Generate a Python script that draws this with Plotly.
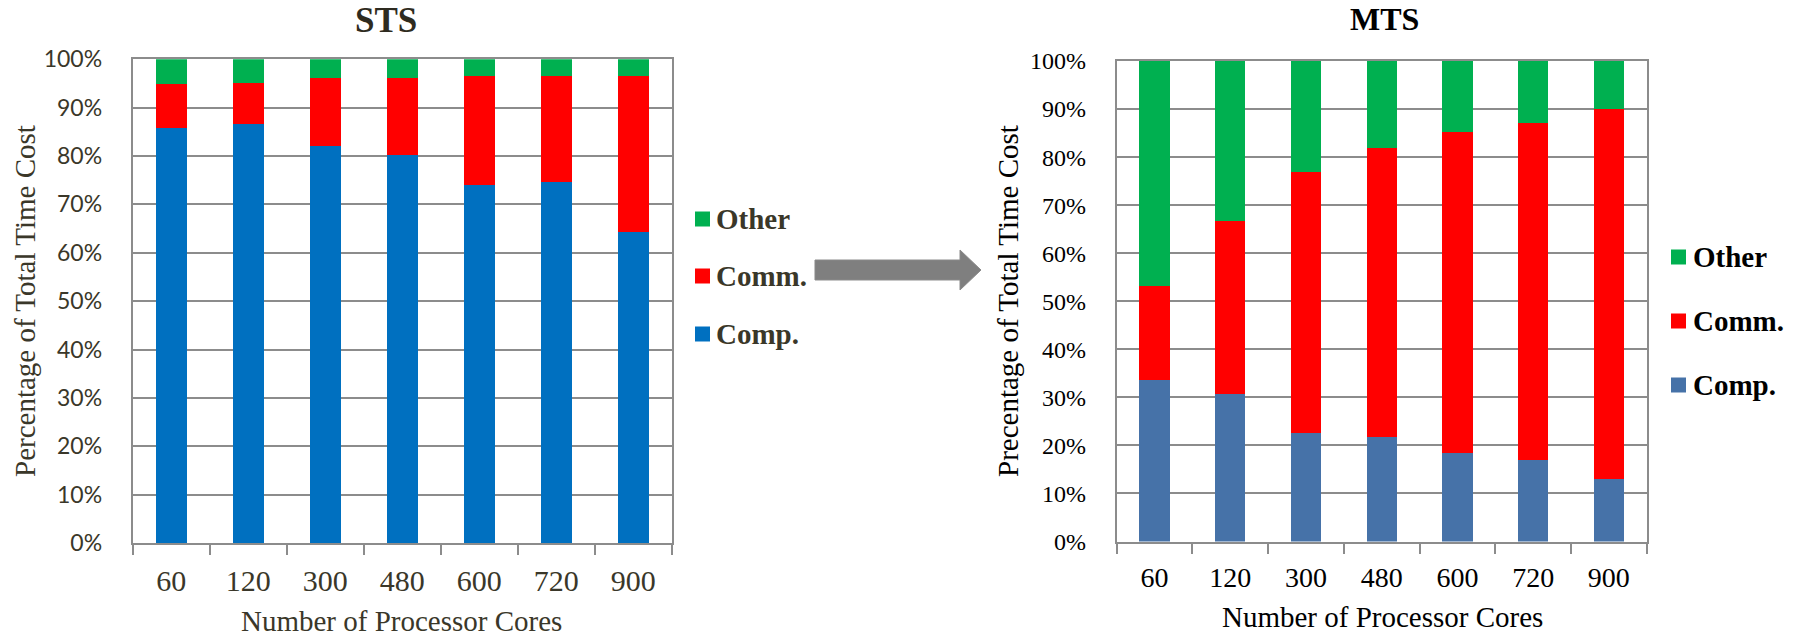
import plotly.graph_objects as go

# Processor core counts (categories)
cores = ["60", "120", "300", "480", "600", "720", "900"]

# STS: share of total time (fractions)
sts_comp = [0.857, 0.867, 0.821, 0.802, 0.740, 0.747, 0.643]
sts_comm = [0.092, 0.085, 0.140, 0.160, 0.226, 0.218, 0.323]
sts_other = [0.051, 0.048, 0.039, 0.038, 0.034, 0.035, 0.034]

# MTS: share of total time (fractions)
mts_comp = [0.337, 0.307, 0.225, 0.218, 0.184, 0.170, 0.131]
mts_comm = [0.194, 0.359, 0.545, 0.600, 0.668, 0.701, 0.770]
mts_other = [0.469, 0.334, 0.230, 0.182, 0.148, 0.129, 0.099]

series_names = ["Comp.", "Comm.", "Other"]
sts_colors = ["#0070C0", "#FF0000", "#00B050"]
mts_colors = ["#4672A8", "#FF0000", "#00B050"]

W, H = 1798, 636
SERIF = "Liberation Serif"
LEFT_TXT = "#3a3729"
RIGHT_TXT = "#000000"
GRID = "#8c8c8c"


def px(x):
    return x / W


def py(y):
    return 1 - y / H


fig = go.Figure()

for vals, name, color in zip([sts_comp, sts_comm, sts_other], series_names, sts_colors):
    fig.add_trace(go.Bar(x=cores, y=vals, name=name, marker=dict(color=color, line=dict(width=0)),
                         xaxis="x", yaxis="y", showlegend=False))
for vals, name, color in zip([mts_comp, mts_comm, mts_other], series_names, mts_colors):
    fig.add_trace(go.Bar(x=cores, y=vals, name=name, marker=dict(color=color, line=dict(width=0)),
                         xaxis="x2", yaxis="y2", showlegend=False))


def xaxis_style(domain, font_size, color):
    return dict(domain=domain, type="category", categoryarray=cores, categoryorder="array",
                showline=True, mirror=True, linecolor=GRID, linewidth=2,
                ticks="outside", tickson="boundaries", ticklen=10, tickwidth=2, tickcolor=GRID,
                tickfont=dict(family=SERIF, size=font_size, color=color),
                ticklabelstandoff=10, showgrid=False, fixedrange=True, automargin=False)


def yaxis_style(domain, font, anchor, standoff):
    return dict(domain=domain, anchor=anchor, range=[0, 1], dtick=0.1, tickformat=".0%",
                showgrid=True, gridcolor=GRID, gridwidth=1.5, zeroline=False,
                showline=True, mirror=True, linecolor=GRID, linewidth=2, ticks="",
                tickfont=font, ticklabelstandoff=standoff, fixedrange=True, automargin=False)


layout = dict(
    width=W, height=H, margin=dict(l=0, r=0, t=0, b=0, pad=0, autoexpand=False),
    paper_bgcolor="white", plot_bgcolor="white",
    barmode="stack", bargap=0.6, showlegend=False,
    xaxis=dict(anchor="y", **xaxis_style([px(132.7), px(671.7)], 30, LEFT_TXT)),
    yaxis=yaxis_style([py(543), py(59.3)], dict(family="Lato", size=23, color=LEFT_TXT), "x", 24),
    xaxis2=dict(anchor="y2", **xaxis_style([px(1116.7), px(1646.7)], 28, RIGHT_TXT)),
    yaxis2=yaxis_style([py(541.5), py(61)], dict(family=SERIF, size=24, color=RIGHT_TXT), "x2", 24),
)
fig.update_layout(**layout)

annotations = []


def text(x, y, s, size, color, bold=False, angle=0, xanchor="center", yanchor="middle"):
    annotations.append(dict(
        x=px(x), y=py(y), xref="paper", yref="paper", text=f"<b>{s}</b>" if bold else s,
        showarrow=False, xanchor=xanchor, yanchor=yanchor, textangle=angle, borderpad=0,
        font=dict(family=SERIF, size=size, color=color)))


# Chart titles, hung from the top edge
text(386, 0, "STS", 35, "#2e2b20", bold=True, yanchor="top")
text(1384, 0, "MTS", 32, RIGHT_TXT, bold=True, yanchor="top")

# Axis titles
text(401, 621, "Number of Processor Cores", 29, LEFT_TXT)
text(25, 301, "Percentage of Total Time Cost", 29, LEFT_TXT, angle=-90)
text(1382, 617, "Number of Processor Cores", 29, RIGHT_TXT)
text(1008, 301, "Precentage of Total Time Cost", 29, RIGHT_TXT, angle=-90)

shapes = []


def legend(x_sq, x_txt, ys, colors, txt_color):
    for y, name, color in zip(ys, ["Other", "Comm.", "Comp."], colors):
        shapes.append(dict(type="rect", xref="paper", yref="paper",
                           x0=px(x_sq), x1=px(x_sq + 15), y0=py(y + 7.5), y1=py(y - 7.5),
                           fillcolor=color, line=dict(width=0)))
        text(x_txt, y, name, 29, txt_color, bold=True, xanchor="left")


legend(695, 715, [219, 276, 334], [sts_colors[2], sts_colors[1], sts_colors[0]], LEFT_TXT)
legend(1671, 1692, [257, 321, 385], [mts_colors[2], mts_colors[1], mts_colors[0]], RIGHT_TXT)

# Transition arrow between the two panels
pts = [(815, 260), (960, 260), (960, 250), (981, 270), (960, 290), (960, 280), (815, 280)]
path = "M " + " L ".join(f"{px(x):.5f},{py(y):.5f}" for x, y in pts) + " Z"
shapes.append(dict(type="path", xref="paper", yref="paper", path=path,
                   fillcolor="#7f7f7f", line=dict(color="#8a8a8a", width=1)))

fig.update_layout(annotations=annotations, shapes=shapes)

fig.write_html("out.html")
